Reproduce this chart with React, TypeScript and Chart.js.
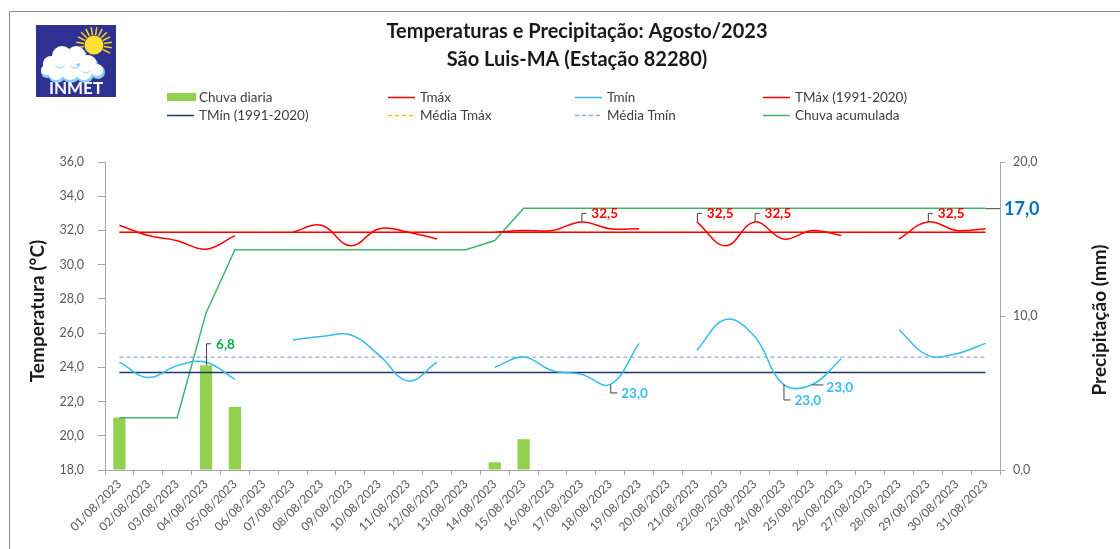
import React, { useEffect, useRef } from "react";
import { Chart, registerables } from "chart.js";

Chart.register(...registerables);

const days: string[] = [
  "01/08/2023","02/08/2023","03/08/2023","04/08/2023","05/08/2023","06/08/2023","07/08/2023","08/08/2023",
  "09/08/2023","10/08/2023","11/08/2023","12/08/2023","13/08/2023","14/08/2023","15/08/2023","16/08/2023",
  "17/08/2023","18/08/2023","19/08/2023","20/08/2023","21/08/2023","22/08/2023","23/08/2023","24/08/2023",
  "25/08/2023","26/08/2023","27/08/2023","28/08/2023","29/08/2023","30/08/2023","31/08/2023",
];

const chuvaDiaria: (number | null)[] = [
  3.4, 0, 0, 6.8, 4.1, 0, 0, 0, 0, 0, 0, 0, 0, 0.5, 2.0, 0,
  0, 0, 0, 0, 0, 0, 0, 0, 0, 0, 0, 0, 0, 0, 0,
];

const chuvaAcumulada: number[] = [
  3.4, 3.4, 3.4, 10.2, 14.3, 14.3, 14.3, 14.3, 14.3, 14.3, 14.3, 14.3, 14.3, 14.9, 17.0, 17.0,
  17.0, 17.0, 17.0, 17.0, 17.0, 17.0, 17.0, 17.0, 17.0, 17.0, 17.0, 17.0, 17.0, 17.0, 17.0,
];

const tmax: (number | null)[] = [
  32.3, 31.7, 31.4, 30.9, 31.7, null, 31.9, 32.3, 31.1, 32.1, 31.9, 31.5, null, 31.9, 32.0, 32.0,
  32.5, 32.1, 32.1, null, 32.5, 31.1, 32.5, 31.5, 32.0, 31.7, null, 31.5, 32.5, 32.0, 32.1,
];

const tmin: (number | null)[] = [
  24.3, 23.4, 24.1, 24.3, 23.3, null, 25.6, 25.8, 25.9, 24.7, 23.2, 24.3, null, 24.0, 24.6, 23.8,
  23.6, 23.0, 25.4, null, 25.0, 26.8, 25.8, 23.0, 23.0, 24.5, null, 26.2, 24.7, 24.8, 25.4,
];

const tmaxNormal = 31.9;
const tminNormal = 23.7;
const mediaTmax = 31.9;
const mediaTmin = 24.6;

const tempTicks = { min: 18, max: 36, step: 2 };
const rainTicks = { min: 0, max: 20, step: 10 };

// labelled points: [series, day index, style]
const labelledPoints: { series: string; day: number; style: string }[] = [
  { series: "Chuva diaria", day: 3, style: "upLong" },
  { series: "Tmáx", day: 16, style: "up" },
  { series: "Tmáx", day: 20, style: "up" },
  { series: "Tmáx", day: 22, style: "up" },
  { series: "Tmáx", day: 28, style: "up" },
  { series: "Tmín", day: 17, style: "down" },
  { series: "Tmín", day: 23, style: "downLong" },
  { series: "Tmín", day: 24, style: "right" },
  { series: "Chuva acumulada", day: 30, style: "axis" },
];

const FONT = "Lato, 'Open Sans', sans-serif";

function fmt(v: number): string {
  return v.toFixed(1).replace(".", ",");
}

function drawLogo(ctx: CanvasRenderingContext2D) {
  ctx.save();
  ctx.fillStyle = "#2E3192";
  ctx.fillRect(36, 25, 80, 72);
  // sun rays
  const sx = 94, sy = 45;
  ctx.strokeStyle = "#F7D117";
  ctx.lineWidth = 1.5;
  for (let a = -Math.PI * 1.05; a <= 0.5; a += Math.PI / 10) {
    ctx.beginPath();
    ctx.moveTo(sx + Math.cos(a) * 10, sy + Math.sin(a) * 10);
    ctx.lineTo(sx + Math.cos(a) * 18, sy + Math.sin(a) * 18);
    ctx.stroke();
  }
  ctx.fillStyle = "#FFE135";
  ctx.beginPath();
  ctx.arc(sx, sy, 9.5, 0, Math.PI * 2);
  ctx.fill();
  // cloud
  const blobs: [number, number, number][] = [
    [51, 64, 9], [62, 56, 11], [76, 55, 10], [88, 63, 9], [97, 70, 7],
    [56, 72, 9], [70, 71, 10], [84, 72, 9], [46, 70, 6],
  ];
  ctx.fillStyle = "#8ECFEF";
  blobs.forEach(([x, y, r]) => { ctx.beginPath(); ctx.arc(x + 1, y + 2, r, 0, Math.PI * 2); ctx.fill(); });
  ctx.fillStyle = "#FFFFFF";
  blobs.forEach(([x, y, r]) => { ctx.beginPath(); ctx.arc(x, y, r - 1, 0, Math.PI * 2); ctx.fill(); });
  ctx.strokeStyle = "#8ECFEF";
  ctx.lineWidth = 1;
  [[60, 62, 6], [75, 62, 6], [86, 68, 5]].forEach(([x, y, r]) => {
    ctx.beginPath(); ctx.arc(x, y, r, 0.2 * Math.PI, 0.8 * Math.PI); ctx.stroke();
  });
  ctx.fillStyle = "#FFFFFF";
  ctx.font = `bold 17px ${FONT}`;
  ctx.textAlign = "center";
  ctx.textBaseline = "middle";
  ctx.fillText("INMET", 76, 89);
  ctx.restore();
}

const decorPlugin = {
  id: "decor",
  beforeDraw(chart: any) {
    const ctx: CanvasRenderingContext2D = chart.ctx;
    ctx.save();
    ctx.fillStyle = "#FFFFFF";
    ctx.fillRect(0, 0, chart.width, chart.height);
    // outer border
    ctx.strokeStyle = "#8C8C8C";
    ctx.lineWidth = 1;
    ctx.beginPath();
    ctx.moveTo(9.5, chart.height + 5);
    ctx.lineTo(9.5, 11.5);
    ctx.lineTo(chart.width + 5, 11.5);
    ctx.stroke();

    drawLogo(ctx);

    // title
    ctx.fillStyle = "#1A1A1A";
    ctx.font = `bold 20px ${FONT}`;
    ctx.textAlign = "center";
    ctx.textBaseline = "middle";
    ctx.fillText("Temperaturas e Precipitação: Agosto/2023", 577, 32);
    ctx.fillText("São Luis-MA (Estação 82280)", 577, 60);

    // legend
    const items = [
      { t: "Chuva diaria", x: 167, y: 97, kind: "bar", c: "#92D050" },
      { t: "Tmáx", x: 388, y: 97, kind: "line", c: "#FF0000" },
      { t: "Tmín", x: 575, y: 97, kind: "line", c: "#33BDEF" },
      { t: "TMáx (1991-2020)", x: 763, y: 97, kind: "line", c: "#FF0000" },
      { t: "TMín (1991-2020)", x: 167, y: 115, kind: "line", c: "#203864" },
      { t: "Média Tmáx", x: 388, y: 115, kind: "dash", c: "#FFC000" },
      { t: "Média Tmín", x: 575, y: 115, kind: "dash", c: "#8FAADC" },
      { t: "Chuva acumulada", x: 763, y: 115, kind: "line", c: "#3CB86A" },
    ];
    ctx.font = `13.5px ${FONT}`;
    ctx.textAlign = "left";
    items.forEach((it) => {
      if (it.kind === "bar") {
        ctx.fillStyle = it.c;
        ctx.fillRect(it.x, it.y - 4, 29, 8);
      } else {
        ctx.strokeStyle = it.c;
        ctx.lineWidth = 1.5;
        ctx.setLineDash(it.kind === "dash" ? [4, 3] : []);
        ctx.beginPath();
        ctx.moveTo(it.x, it.y + 0.5);
        ctx.lineTo(it.x + 27, it.y + 0.5);
        ctx.stroke();
        ctx.setLineDash([]);
      }
      ctx.fillStyle = "#404040";
      ctx.fillText(it.t, it.x + 32, it.y + 1);
    });

    // axis titles
    ctx.fillStyle = "#1A1A1A";
    ctx.font = `bold 19px ${FONT}`;
    ctx.textAlign = "center";
    ctx.save();
    ctx.translate(38, 311);
    ctx.rotate(-Math.PI / 2);
    ctx.fillText("Temperatura (°C)", 0, 0);
    ctx.restore();
    ctx.save();
    ctx.translate(1100, 320);
    ctx.rotate(-Math.PI / 2);
    ctx.fillText("Precipitação (mm)", 0, 0);
    ctx.restore();
    ctx.restore();
  },
  afterDatasetsDraw(chart: any) {
    const ctx: CanvasRenderingContext2D = chart.ctx;
    ctx.save();
    labelledPoints.forEach((lp) => {
      const dsIndex = chart.data.datasets.findIndex((d: any) => d.label === lp.series);
      const ds = chart.data.datasets[dsIndex];
      const el = chart.getDatasetMeta(dsIndex).data[lp.day];
      const val = ds.data[lp.day];
      if (!el || val == null) return;
      const px = el.x, py = el.y;
      ctx.strokeStyle = "#404040";
      ctx.lineWidth = 1;
      let tx = px, ty = py;
      ctx.beginPath();
      if (lp.style === "up" || lp.style === "upLong") {
        const h = lp.style === "up" ? 9 : 22;
        ctx.moveTo(px + 0.5, py);
        ctx.lineTo(px + 0.5, py - h + 0.5);
        ctx.lineTo(px + 5, py - h + 0.5);
        tx = px + 10; ty = py - h + 1;
      } else if (lp.style === "down" || lp.style === "downLong") {
        const h = lp.style === "down" ? 8 : 15;
        ctx.moveTo(px + 0.5, py);
        ctx.lineTo(px + 0.5, py + h + 0.5);
        ctx.lineTo(px + 7, py + h + 0.5);
        tx = px + 11; ty = py + h + 1;
      } else if (lp.style === "right") {
        ctx.moveTo(px, py + 0.5);
        ctx.lineTo(px + 11, py + 0.5);
        tx = px + 14; ty = py + 3;
      } else if (lp.style === "axis") {
        ctx.moveTo(px, py + 0.5);
        ctx.lineTo(chart.chartArea.right, py + 0.5);
        tx = chart.chartArea.right + 4; ty = py + 1;
      }
      ctx.stroke();
      let color = ds.borderColor;
      let size = 13.5;
      if (lp.series === "Chuva diaria") color = "#00B050";
      if (lp.style === "axis") { color = "#0070C0"; size = 18; }
      ctx.fillStyle = color;
      ctx.font = `bold ${size}px ${FONT}`;
      ctx.textAlign = "left";
      ctx.textBaseline = "middle";
      ctx.fillText(fmt(val), tx, ty);
    });
    ctx.restore();
  },
};

export default function App() {
  const ref = useRef<HTMLCanvasElement | null>(null);
  useEffect(() => {
    document.body.style.margin = "0";
    document.body.style.overflow = "hidden";
    const flat = (v: number) => days.map(() => v);
    const tickColor = "#595959";
    const chart = new Chart(ref.current as HTMLCanvasElement, {
      type: "bar",
      data: {
        labels: days,
        datasets: [
          {
            type: "line", label: "Tmáx", data: tmax, yAxisID: "y",
            borderColor: "#FF0000", borderWidth: 1.5, tension: 0.4, pointRadius: 0, spanGaps: false, order: 1,
          },
          {
            type: "line", label: "Tmín", data: tmin, yAxisID: "y",
            borderColor: "#33BDEF", borderWidth: 1.5, tension: 0.4, pointRadius: 0, spanGaps: false, order: 1,
          },
          {
            type: "line", label: "TMáx (1991-2020)", data: flat(tmaxNormal), yAxisID: "y",
            borderColor: "#FF0000", borderWidth: 1.5, pointRadius: 0, order: 2,
          },
          {
            type: "line", label: "TMín (1991-2020)", data: flat(tminNormal), yAxisID: "y",
            borderColor: "#203864", borderWidth: 1.5, pointRadius: 0, order: 2,
          },
          {
            type: "line", label: "Média Tmáx", data: flat(mediaTmax), yAxisID: "y",
            borderColor: "#FFC000", borderWidth: 1, borderDash: [4, 3], pointRadius: 0, order: 3,
          },
          {
            type: "line", label: "Média Tmín", data: flat(mediaTmin), yAxisID: "y",
            borderColor: "#8FAADC", borderWidth: 1.2, borderDash: [4, 3], pointRadius: 0, order: 3,
          },
          {
            type: "line", label: "Chuva acumulada", data: chuvaAcumulada, yAxisID: "y1",
            borderColor: "#3CB86A", borderWidth: 1.5, tension: 0, pointRadius: 0, order: 4,
          },
          {
            type: "bar", label: "Chuva diaria", data: chuvaDiaria, yAxisID: "y1",
            backgroundColor: "#92D050", borderWidth: 0, barPercentage: 0.85, categoryPercentage: 0.5, order: 10,
          },
        ],
      },
      options: {
        responsive: false,
        animation: false,
        events: [],
        layout: { padding: { top: 162, left: 0, right: 0, bottom: 0 } },
        plugins: { legend: { display: false }, tooltip: { enabled: false }, title: { display: false } },
        scales: {
          x: {
            offset: true,
            grid: { offset: true, drawOnChartArea: false, drawTicks: true, tickLength: 5, color: "#A6A6A6" },
            border: { display: true, color: "#A6A6A6" },
            ticks: {
              autoSkip: false, maxRotation: 45, minRotation: 45, padding: 2,
              color: tickColor, font: { family: FONT, size: 12 },
            },
            afterFit: (s: any) => { s.height = 79; },
          },
          y: {
            position: "left",
            min: tempTicks.min, max: tempTicks.max,
            grid: { drawOnChartArea: false, drawTicks: true, tickLength: 7, color: "#A6A6A6" },
            border: { display: true, color: "#A6A6A6" },
            ticks: {
              stepSize: tempTicks.step, padding: 14, color: tickColor, font: { family: FONT, size: 12.5 },
              callback: (v: any) => fmt(Number(v)),
            },
            afterFit: (s: any) => { s.width = 105; },
          },
          y1: {
            position: "right",
            min: rainTicks.min, max: rainTicks.max,
            grid: { drawOnChartArea: false, drawTicks: true, tickLength: 5, color: "#A6A6A6" },
            border: { display: true, color: "#A6A6A6" },
            ticks: {
              stepSize: rainTicks.step, padding: 8, color: tickColor, font: { family: FONT, size: 12.5 },
              callback: (v: any) => fmt(Number(v)),
            },
            afterFit: (s: any) => { s.width = 120; },
          },
        },
      },
      plugins: [decorPlugin],
    } as any);
    return () => chart.destroy();
  }, []);
  return (
    <div style={{ width: 1120, height: 549 }}>
      <canvas ref={ref} width={1120} height={549} style={{ display: "block" }} />
    </div>
  );
}
